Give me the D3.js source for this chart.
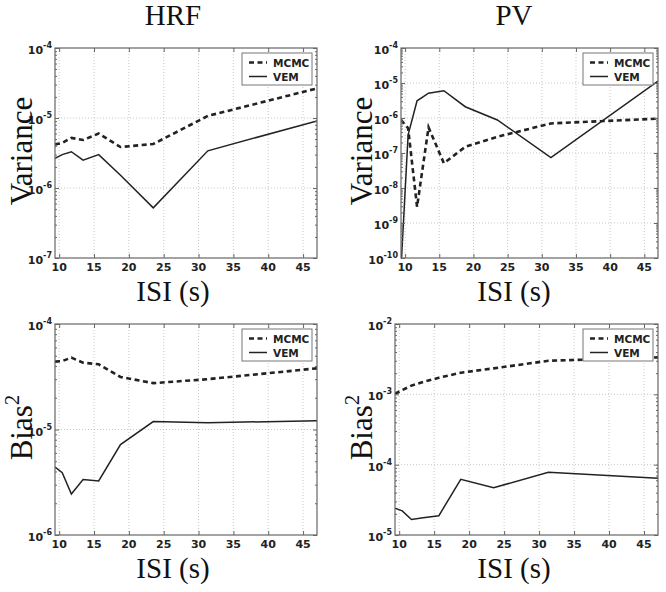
<!DOCTYPE html>
<html><head><meta charset="utf-8">
<script src="https://cdn.jsdelivr.net/npm/d3@7"></script>
<style>
body{margin:0;background:#fff;}
svg{display:block;}
</style></head>
<body>
<svg id="c" width="666" height="592"></svg>
<script>
// ---- data ----
const isi = [9.4, 10.44, 11.75, 13.43, 15.67, 18.8, 23.5, 31.33, 47];
const xTicks = [10, 15, 20, 25, 30, 35, 40, 45];
const seriesNames = ["MCMC", "VEM"];
const colTitles = ["HRF", "PV"];
const rowLabels = ["Variance", "Bias"];

const hrfVarMCMC = [4.2e-6, 4.4e-6, 5.2e-6, 4.85e-6, 6.0e-6, 3.85e-6, 4.25e-6, 1.07e-5, 2.65e-5];
const hrfVarVEM  = [2.65e-6, 3.0e-6, 3.3e-6, 2.5e-6, 3.0e-6, 1.52e-6, 5.2e-7, 3.4e-6, 9.1e-6];
const pvVarMCMC  = [8.8e-7, 5.1e-7, 2.9e-9, 5.4e-7, 5.1e-8, 1.5e-7, 2.9e-7, 7.0e-7, 9.6e-7];
const pvVarVEM   = [5e-11, 3.3e-7, 3.1e-6, 5.1e-6, 6.0e-6, 2.1e-6, 8.8e-7, 7.4e-8, 1.14e-5];
const hrfBiasMCMC = [4.4e-5, 4.45e-5, 4.8e-5, 4.3e-5, 4.15e-5, 3.15e-5, 2.75e-5, 3.0e-5, 3.8e-5];
const hrfBiasVEM  = [4.4e-6, 3.9e-6, 2.45e-6, 3.35e-6, 3.25e-6, 7.2e-6, 1.19e-5, 1.16e-5, 1.21e-5];
const pvBiasMCMC  = [1.02e-3, 1.15e-3, 1.33e-3, 1.5e-3, 1.72e-3, 2.03e-3, 2.34e-3, 3.0e-3, 3.35e-3];
const pvBiasVEM   = [2.4e-5, 2.2e-5, 1.66e-5, 1.76e-5, 1.88e-5, 6.2e-5, 4.7e-5, 7.8e-5, 6.4e-5];

const yExpHrfVar = [-7, -4];
const yExpPvVar = [-10, -4];
const yExpHrfBias = [-6, -4];
const yExpPvBias = [-5, -2];

// ---- layout ----
const panels = [
  {mcmc: hrfVarMCMC, vem: hrfVarVEM, exp: yExpHrfVar, x0: 55, x1: 317, y0: 48, y1: 258, row: 0, col: 0},
  {mcmc: pvVarMCMC, vem: pvVarVEM, exp: yExpPvVar, x0: 401, x1: 658, y0: 48, y1: 258, row: 0, col: 1},
  {mcmc: hrfBiasMCMC, vem: hrfBiasVEM, exp: yExpHrfBias, x0: 55, x1: 317, y0: 324, y1: 535, row: 1, col: 0},
  {mcmc: pvBiasMCMC, vem: pvBiasVEM, exp: yExpPvBias, x0: 395, x1: 658, y0: 324, y1: 535, row: 1, col: 1}
];
const labelCenterX = [173, 514];
const ylabelX = [32, 372];

const svg = d3.select("#c");
const serif = "'Liberation Serif', 'Times New Roman', serif";
const sans = "'DejaVu Sans', sans-serif";

// column titles
colTitles.forEach((t, i) => {
  svg.append("text").attr("x", labelCenterX[i]).attr("y", 25)
    .attr("text-anchor", "middle").attr("font-family", serif).attr("font-size", 29)
    .attr("fill", "#111").text(t);
});

panels.forEach((p, pi) => {
  const x = d3.scaleLinear().domain([isi[0], isi[isi.length - 1]]).range([p.x0, p.x1]);
  const y = d3.scaleLog().domain([Math.pow(10, p.exp[0]), Math.pow(10, p.exp[1])]).range([p.y1, p.y0]);
  const g = svg.append("g");
  const clipId = "clip" + pi;
  svg.append("clipPath").attr("id", clipId).append("rect")
    .attr("x", p.x0).attr("y", p.y0).attr("width", p.x1 - p.x0).attr("height", p.y1 - p.y0);

  const majors = d3.range(p.exp[0], p.exp[1] + 1);
  // grid
  xTicks.forEach(v => {
    g.append("line").attr("x1", x(v)).attr("x2", x(v)).attr("y1", p.y0).attr("y2", p.y1)
      .attr("stroke", "#bbb").attr("stroke-width", 0.8).attr("stroke-dasharray", "1,2");
  });
  majors.slice(1, -1).forEach(e => {
    const yy = y(Math.pow(10, e));
    g.append("line").attr("x1", p.x0).attr("x2", p.x1).attr("y1", yy).attr("y2", yy)
      .attr("stroke", "#bbb").attr("stroke-width", 0.8).attr("stroke-dasharray", "1,2");
  });

  // lines
  const line = d3.line().x((d, i) => x(isi[i])).y(d => y(d));
  const lg = g.append("g").attr("clip-path", `url(#${clipId})`);
  lg.append("path").datum(p.mcmc).attr("d", line).attr("fill", "none")
    .attr("stroke", "#222").attr("stroke-width", 2.6).attr("stroke-dasharray", "5,3.5");
  lg.append("path").datum(p.vem).attr("d", line).attr("fill", "none")
    .attr("stroke", "#222").attr("stroke-width", 1.5);

  // frame
  g.append("rect").attr("x", p.x0).attr("y", p.y0).attr("width", p.x1 - p.x0).attr("height", p.y1 - p.y0)
    .attr("fill", "none").attr("stroke", "#666").attr("stroke-width", 1.2);

  // ticks (inside, both sides)
  const yAxL = d3.axisLeft(y).tickValues(majors.map(e => Math.pow(10, e))).tickSize(-4).tickFormat("");
  const yAxR = d3.axisRight(y).tickValues(majors.map(e => Math.pow(10, e))).tickSize(-4).tickFormat("");
  const minors = [];
  for (let e = p.exp[0]; e < p.exp[1]; e++) for (let m = 2; m <= 9; m++) minors.push(m * Math.pow(10, e));
  const yMinL = d3.axisLeft(y).tickValues(minors).tickSize(-2).tickFormat("");
  const yMinR = d3.axisRight(y).tickValues(minors).tickSize(-2).tickFormat("");
  const xAxB = d3.axisBottom(x).tickValues(xTicks).tickSize(-4).tickFormat("");
  const xAxT = d3.axisTop(x).tickValues(xTicks).tickSize(-4).tickFormat("");
  [[yAxL, `translate(${p.x0},0)`], [yAxR, `translate(${p.x1},0)`], [yMinL, `translate(${p.x0},0)`],
   [yMinR, `translate(${p.x1},0)`], [xAxB, `translate(0,${p.y1})`], [xAxT, `translate(0,${p.y0})`]].forEach(([ax, tr]) => {
    const a = g.append("g").attr("transform", tr).call(ax);
    a.select(".domain").remove();
    a.selectAll("line").attr("stroke", "#666");
  });

  // x tick labels
  xTicks.forEach(v => {
    g.append("text").attr("x", x(v)).attr("y", p.y1 + 13).attr("text-anchor", "middle")
      .attr("font-family", sans).attr("font-weight", "bold").attr("font-size", 11).attr("fill", "#222").text(v);
  });
  // y tick labels
  majors.forEach(e => {
    const t = g.append("text").attr("x", p.x0 - 3).attr("y", y(Math.pow(10, e)) + 6)
      .attr("text-anchor", "end").attr("font-family", sans).attr("font-weight", "bold")
      .attr("font-size", 11).attr("fill", "#222");
    t.append("tspan").text("10");
    t.append("tspan").attr("font-size", 8).attr("dy", -6).text(String(e).replace("-", "-"));
  });

  // y label
  const yl = svg.append("text")
    .attr("transform", `translate(${ylabelX[p.col]},${(p.y0 + p.y1) / 2 - 2}) rotate(-90)`)
    .attr("text-anchor", "middle").attr("font-family", serif).attr("font-size", 31).attr("fill", "#111");
  if (p.row === 0) {
    yl.text(rowLabels[0]);
  } else {
    yl.append("tspan").text(rowLabels[1]);
    yl.append("tspan").attr("font-size", 21).attr("dy", -13).text("2");
  }
  // x label
  svg.append("text").attr("x", labelCenterX[p.col]).attr("y", p.y1 + 43)
    .attr("text-anchor", "middle").attr("font-family", serif).attr("font-size", 29).attr("fill", "#111")
    .text("ISI (s)");

  // legend
  const lw = 70, lh = 32;
  const lx = p.x1 - 5 - lw, ly = p.y0 + 5;
  const leg = g.append("g");
  leg.append("rect").attr("x", lx).attr("y", ly).attr("width", lw).attr("height", lh)
    .attr("fill", "#fff").attr("stroke", "#777").attr("stroke-width", 1);
  seriesNames.forEach((s, i) => {
    const yy = ly + 9.5 + i * 14;
    leg.append("line").attr("x1", lx + 7).attr("x2", lx + 25).attr("y1", yy).attr("y2", yy)
      .attr("stroke", "#222").attr("stroke-width", i === 0 ? 2.6 : 1.5)
      .attr("stroke-dasharray", i === 0 ? "5,3.5" : null);
    leg.append("text").attr("x", lx + 31).attr("y", yy + 4).attr("font-family", sans)
      .attr("font-weight", "bold").attr("font-size", 10.5).attr("fill", "#222").text(s);
  });
});
</script>
</body></html>
